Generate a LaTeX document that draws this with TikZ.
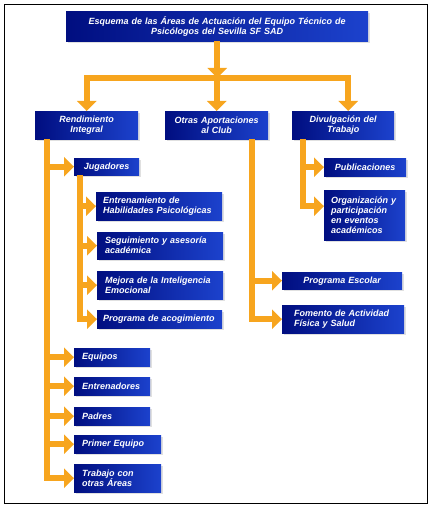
\documentclass[tikz,border=0pt]{standalone}
\usepackage{fontspec}
\setmainfont{Liberation Sans}
\usetikzlibrary{arrows.meta,shadows,calc}
\definecolor{boxL}{RGB}{0,14,128}
\definecolor{boxR}{RGB}{28,66,205}
\definecolor{orangeC}{RGB}{247,165,30}
\tikzset{
  box/.style={left color=boxL, right color=boxR, text=white,
    font=\fontsize{9}{10}\selectfont\bfseries\itshape,
    inner ysep=0pt, anchor=north west,
    drop shadow={shadow xshift=1.5pt, shadow yshift=-1.5pt, opacity=0.12, fill=black}},
  wire/.style={draw=orangeC, line width=6pt},
  arr/.style={wire, -{Triangle[width=19pt,length=10pt]}},
  darr/.style={wire, {Triangle[width=19pt,length=10pt]}-{Triangle[width=19pt,length=10pt]}}
}
\begin{document}
\begin{tikzpicture}[x=1pt,y=-1pt]
\useasboundingbox (0,0) rectangle (432,508);
\draw[line width=0.8pt] (4.5,4.5) rectangle (427.5,503);

% nodes
\node[box, text width=286pt, inner xsep=8pt, minimum height=30pt, align=center] (title) at (66,11)
  {Esquema de las Áreas de Actuación del Equipo Técnico de\\Psicólogos del Sevilla SF SAD};
\node[box, text width=87pt, inner xsep=8pt, minimum height=28pt, align=center] (ri) at (35,111) {Rendimiento\\Integral};
\node[box, text width=87pt, inner xsep=8pt, minimum height=28pt, align=center] (oa) at (165,111) {Otras Aportaciones\\al Club};
\node[box, text width=86pt, inner xsep=8pt, minimum height=28pt, align=center] (dt) at (292,111) {Divulgación del\\Trabajo};

\node[box, text width=53pt, inner xsep=6pt, minimum height=17pt, align=center] (jug) at (74,158) {Jugadores};
\node[box, text width=112pt, inner xsep=7pt, minimum height=28pt, align=left] (ent) at (96,192) {Entrenamiento de\\Habilidades Psicológicas};
\node[box, text width=110pt, inner xsep=8pt, minimum height=27pt, align=left] (seg) at (97,232) {Seguimiento y asesoría\\académica};
\node[box, text width=110pt, inner xsep=8pt, minimum height=28pt, align=left] (mej) at (97,271) {Mejora de la Inteligencia\\Emocional};
\node[box, text width=113pt, inner xsep=6pt, minimum height=18pt, align=left] (aco) at (97,310) {Programa de acogimiento};

\node[box, text width=60pt, inner xsep=8pt, minimum height=18pt, align=left] (equ) at (74,348) {Equipos};
\node[box, text width=60pt, inner xsep=8pt, minimum height=18pt, align=left] (entr) at (74,377) {Entrenadores};
\node[box, text width=60pt, inner xsep=8pt, minimum height=18pt, align=left] (pad) at (74,407) {Padres};
\node[box, text width=71pt, inner xsep=8pt, minimum height=18pt, align=left] (pri) at (74,435) {Primer Equipo};
\node[box, text width=71pt, inner xsep=8pt, minimum height=28pt, align=left] (tra) at (74,464) {Trabajo con\\otras Áreas};

\node[box, text width=66pt, inner xsep=8pt, minimum height=18pt, align=center] (pub) at (324,158) {Publicaciones};
\node[box, text width=67pt, inner xsep=7pt, minimum height=50pt, align=left] (org) at (324,190) {Organización y\\participación\\en eventos\\académicos};

\node[box, text width=104pt, inner xsep=8pt, minimum height=17pt, align=center] (esc) at (282,272) {Programa Escolar};
\node[box, text width=98pt, inner xsep=12pt, minimum height=28pt, align=left] (fom) at (282,305) {Fomento de Actividad\\Física y Salud};

% connectors
\coordinate (bar) at (0,78);
\coordinate (dtN) at ([xshift=5pt]dt.north);
\draw[arr] (title.south) -- (title.south |- bar);
\draw[darr] (ri.north) -- (ri.north |- bar) -- (dtN |- bar) -- (dtN);
\draw[arr] (oa.north |- bar) -- (oa.north);

\coordinate (riV) at ([xshift=12pt]ri.south west);
\draw[arr] (riV) |- (tra.west);
\draw[arr] (riV |- jug.west) -- (jug.west);
\draw[arr] (riV |- equ.west) -- (equ.west);
\draw[arr] (riV |- entr.west) -- (entr.west);
\draw[arr] (riV |- pad.west) -- (pad.west);
\draw[arr] (riV |- pri.west) -- (pri.west);

\coordinate (jugV) at ([xshift=6pt]jug.south west);
\draw[arr] (jugV) |- (aco.west);
\draw[arr] (jugV |- ent.west) -- (ent.west);
\draw[arr] (jugV |- seg.west) -- (seg.west);
\draw[arr] (jugV |- mej.west) -- (mej.west);

\coordinate (oaV) at ([xshift=87pt]oa.south west);
\draw[arr] (oaV) |- (fom.west);
\draw[arr] (oaV |- esc.west) -- (esc.west);

\coordinate (dtV) at ([xshift=11pt]dt.south west);
\coordinate (orgW) at ([yshift=9pt]org.west);
\draw[arr] (dtV) |- (orgW);
\draw[arr] (dtV |- pub.west) -- (pub.west);
\end{tikzpicture}
\end{document}
